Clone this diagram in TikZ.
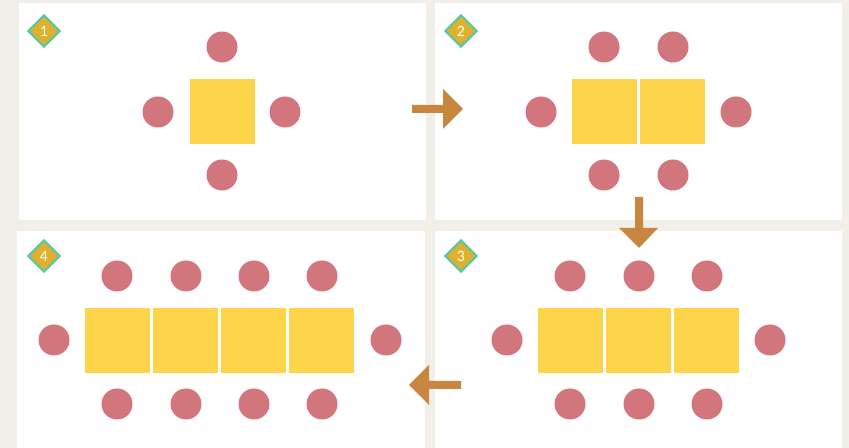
\documentclass[tikz,border=0pt]{standalone}
\usepackage{fontspec}
\newfontfamily\badgefont{Carlito}
\usetikzlibrary{shapes.geometric}

\definecolor{bgbeige}{HTML}{F2EFE8}
\definecolor{tablegold}{HTML}{FED54A}
\definecolor{chairrose}{HTML}{D3757C}
\definecolor{arrowbrown}{HTML}{C8863E}
\definecolor{badgegold}{HTML}{DEB22C}
\definecolor{badgeteal}{HTML}{5EC4A6}

\tikzset{
  chair/.style={fill=chairrose},
  tbl/.style={fill=tablegold},
  panel/.style={fill=white},
  flow/.style={fill=arrowbrown},
  badge/.style={diamond, draw=badgeteal, fill=badgegold, line width=1.2pt,
    minimum size=0.64cm, inner sep=0pt, text=white, font=\badgefont\small}
}

\begin{document}
\begin{tikzpicture}[x=0.02cm, y=-0.02cm]
    \fill[bgbeige] (0,0) rectangle (849,448);
    \useasboundingbox (0,0) rectangle (849,448);

    % panels
    \fill[panel] (19,3) rectangle (426,220);
    \fill[panel] (435,3) rectangle (842,220);
    \fill[panel] (435,231) rectangle (842,448);
    \fill[panel] (17,231) rectangle (425,448);

    % step 1: one table
    \fill[tbl] (190,79) rectangle (255,144);
    \fill[chair] (222,47) circle (0.31cm);
    \fill[chair] (222,175) circle (0.31cm);
    \fill[chair] (158,112) circle (0.31cm);
    \fill[chair] (285,112) circle (0.31cm);
    \node[badge] (badge1) at (44,31) {1};

    % step 2: two tables
    \foreach \x in {572,640} \fill[tbl] (\x,79) rectangle ++(65,65);
    \foreach \x in {604,673} {
        \fill[chair] (\x,47) circle (0.31cm);
        \fill[chair] (\x,175) circle (0.31cm);
    }
    \fill[chair] (541,112) circle (0.31cm);
    \fill[chair] (736,112) circle (0.31cm);
    \node[badge] (badge2) at (461,31) {2};

    % step 3: three tables
    \foreach \x in {538,606,674} \fill[tbl] (\x,308) rectangle ++(65,65);
    \foreach \x in {570,639,707} {
        \fill[chair] (\x,276) circle (0.31cm);
        \fill[chair] (\x,404) circle (0.31cm);
    }
    \fill[chair] (507,340) circle (0.31cm);
    \fill[chair] (770,340) circle (0.31cm);
    \node[badge] (badge3) at (461,256) {3};

    % step 4: four tables
    \foreach \x in {85,153,221,289} \fill[tbl] (\x,308) rectangle ++(65,65);
    \foreach \x in {117,186,254,322} {
        \fill[chair] (\x,276) circle (0.31cm);
        \fill[chair] (\x,404) circle (0.31cm);
    }
    \fill[chair] (54,340) circle (0.31cm);
    \fill[chair] (386,340) circle (0.31cm);
    \node[badge] (badge4) at (44,256) {4};

    % block arrows between the steps
    \fill[flow] (412,105) -- (443,105) -- (443,89) -- (463,109) -- (443,129)
        -- (443,113) -- (412,113) -- cycle;
    \fill[flow] (635,197) -- (635,228) -- (619,228) -- (639,248) -- (658,228)
        -- (643,228) -- (643,197) -- cycle;
    \fill[flow] (461,381) -- (429,381) -- (429,365) -- (409,385) -- (429,405)
        -- (429,389) -- (461,389) -- cycle;
\end{tikzpicture}
\end{document}
